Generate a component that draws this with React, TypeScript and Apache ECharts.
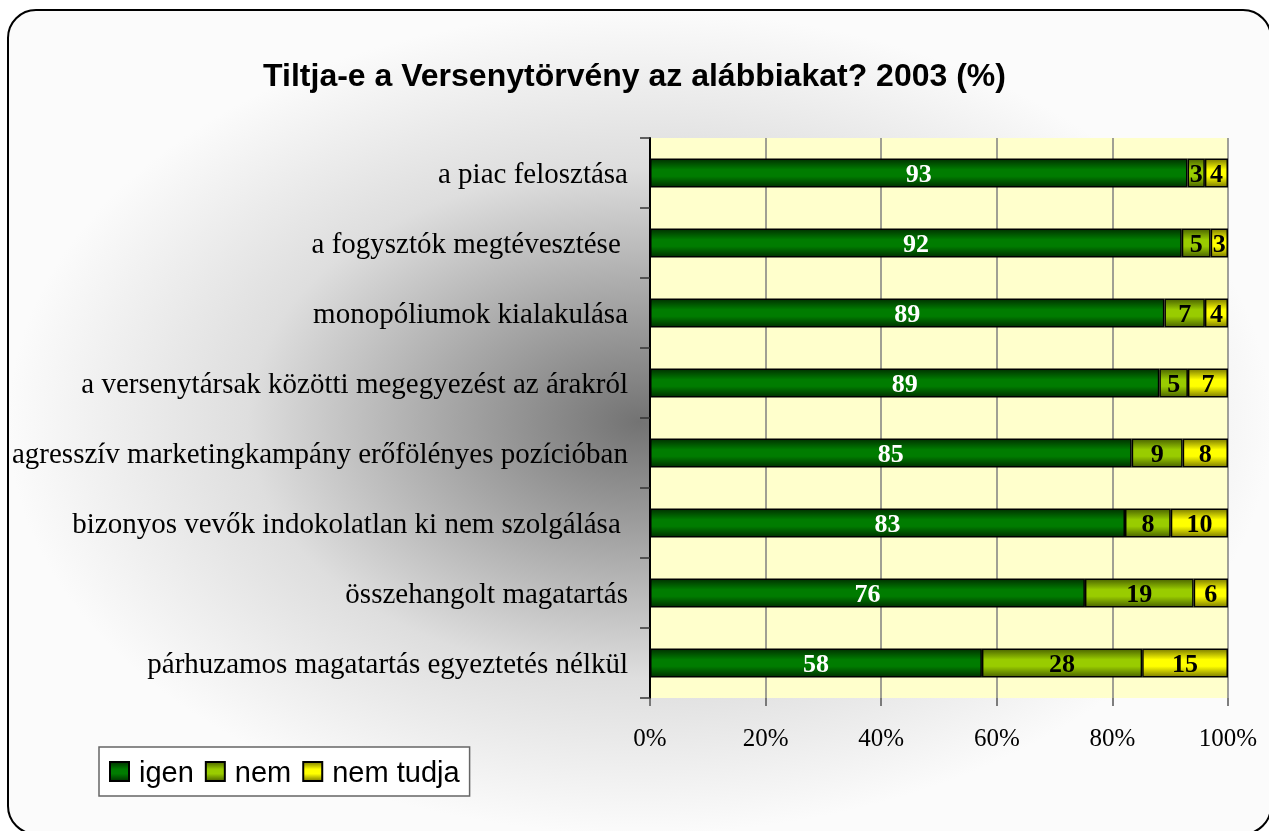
import { useEffect, useRef } from 'react';
import * as echarts from 'echarts';

const categories = [
  'a piac felosztása',
  'a fogysztók megtévesztése ',
  'monopóliumok kialakulása',
  'a versenytársak közötti megegyezést az árakról',
  'agresszív marketingkampány erőfölényes pozícióban',
  'bizonyos vevők indokolatlan ki nem szolgálása ',
  'összehangolt magatartás',
  'párhuzamos magatartás egyeztetés nélkül',
];
const igen = [93, 92, 89, 89, 85, 83, 76, 58];
const nem = [3, 5, 7, 5, 9, 8, 19, 28];
const nemTudja = [4, 3, 4, 7, 8, 10, 6, 15];
const seriesNames = ['igen', 'nem', 'nem tudja'];
const titleText = 'Tiltja-e a Versenytörvény az alábbiakat? 2003 (%)';

const serif = '"Liberation Serif", "Times New Roman", serif';
const sans = '"Liberation Sans", Arial, sans-serif';

function grad(edge: string, mid: string) {
  return new echarts.graphic.LinearGradient(0, 0, 0, 1, [
    { offset: 0, color: edge },
    { offset: 0.38, color: mid },
    { offset: 0.62, color: mid },
    { offset: 1, color: edge },
  ]);
}

export default function App() {
  const ref = useRef<HTMLDivElement>(null);
  useEffect(() => {
    if (!ref.current) return;
    const chart = echarts.init(ref.current, null, { renderer: 'svg' });
    const raw = [igen, nem, nemTudja];
    const totals = categories.map((_, i) => igen[i] + nem[i] + nemTudja[i]);
    const fills = [
      grad('#003300', '#007c00'),
      grad('#4d6600', '#99cc00'),
      grad('#808000', '#ffff00'),
    ];
    const labelColors = ['#ffffff', '#000000', '#000000'];
    const series = seriesNames.map((name, s) => ({
      name,
      type: 'bar',
      stack: 'total',
      barWidth: 29,
      data: raw[s].map((v, i) => (v / totals[i]) * 100),
      itemStyle: { color: fills[s], borderColor: '#000', borderWidth: 1.5 },
      label: {
        show: true,
        position: 'inside',
        formatter: (p: any) => String(raw[s][p.dataIndex]),
        color: labelColors[s],
        fontFamily: serif,
        fontWeight: 'bold',
        fontSize: 26,
      },
    }));
    chart.setOption({
      animation: false,
      graphic: [
        {
          type: 'rect',
          z: -100,
          shape: { x: 8, y: 10, width: 1263, height: 824, r: 28 },
          style: {
            fill: new echarts.graphic.RadialGradient(0.5, 0.5, 0.5, [
              { offset: 0, color: '#737373' },
              { offset: 0.3, color: '#a6a6a6' },
              { offset: 0.62, color: '#dedede' },
              { offset: 1, color: '#fbfbfb' },
            ]),
            stroke: '#000',
            lineWidth: 2,
          },
        },
      ],
      title: {
        text: titleText,
        left: 'center',
        top: 54,
        textStyle: { fontFamily: sans, fontWeight: 'bold', fontSize: 32, color: '#000' },
      },
      legend: {
        left: 99,
        top: 747,
        orient: 'horizontal',
        icon: 'rect',
        itemWidth: 19,
        itemHeight: 19,
        itemGap: 11,
        padding: [10, 10, 10, 10],
        backgroundColor: '#ffffff',
        borderColor: '#666',
        borderWidth: 1.5,
        textStyle: { fontFamily: sans, fontSize: 29, color: '#000', padding: [0, 0, 0, 5] },
        data: seriesNames,
      },
      grid: {
        left: 650,
        right: 41,
        top: 138,
        bottom: 133,
        show: true,
        backgroundColor: '#ffffcc',
        borderWidth: 0,
      },
      xAxis: {
        type: 'value',
        min: 0,
        max: 100,
        interval: 20,
        axisLine: { show: false },
        axisTick: { show: true, length: 8, lineStyle: { color: '#555', width: 1.5 } },
        splitLine: { show: true, lineStyle: { color: '#808080', width: 1.5 } },
        axisLabel: {
          formatter: '{value}%',
          fontFamily: serif,
          fontSize: 25,
          color: '#000',
          margin: 27,
        },
      },
      yAxis: {
        type: 'category',
        inverse: true,
        data: categories,
        axisLine: { show: true, lineStyle: { color: '#000', width: 2 } },
        axisTick: { show: true, length: 10, lineStyle: { color: '#333', width: 1.5 } },
        splitLine: { show: false },
        axisLabel: { fontFamily: serif, fontSize: 29, color: '#000', margin: 22 },
      },
      series,
    });
    return () => chart.dispose();
  }, []);
  return <div ref={ref} style={{ position: 'fixed', left: 0, top: 0, width: 1269, height: 831 }} />;
}
